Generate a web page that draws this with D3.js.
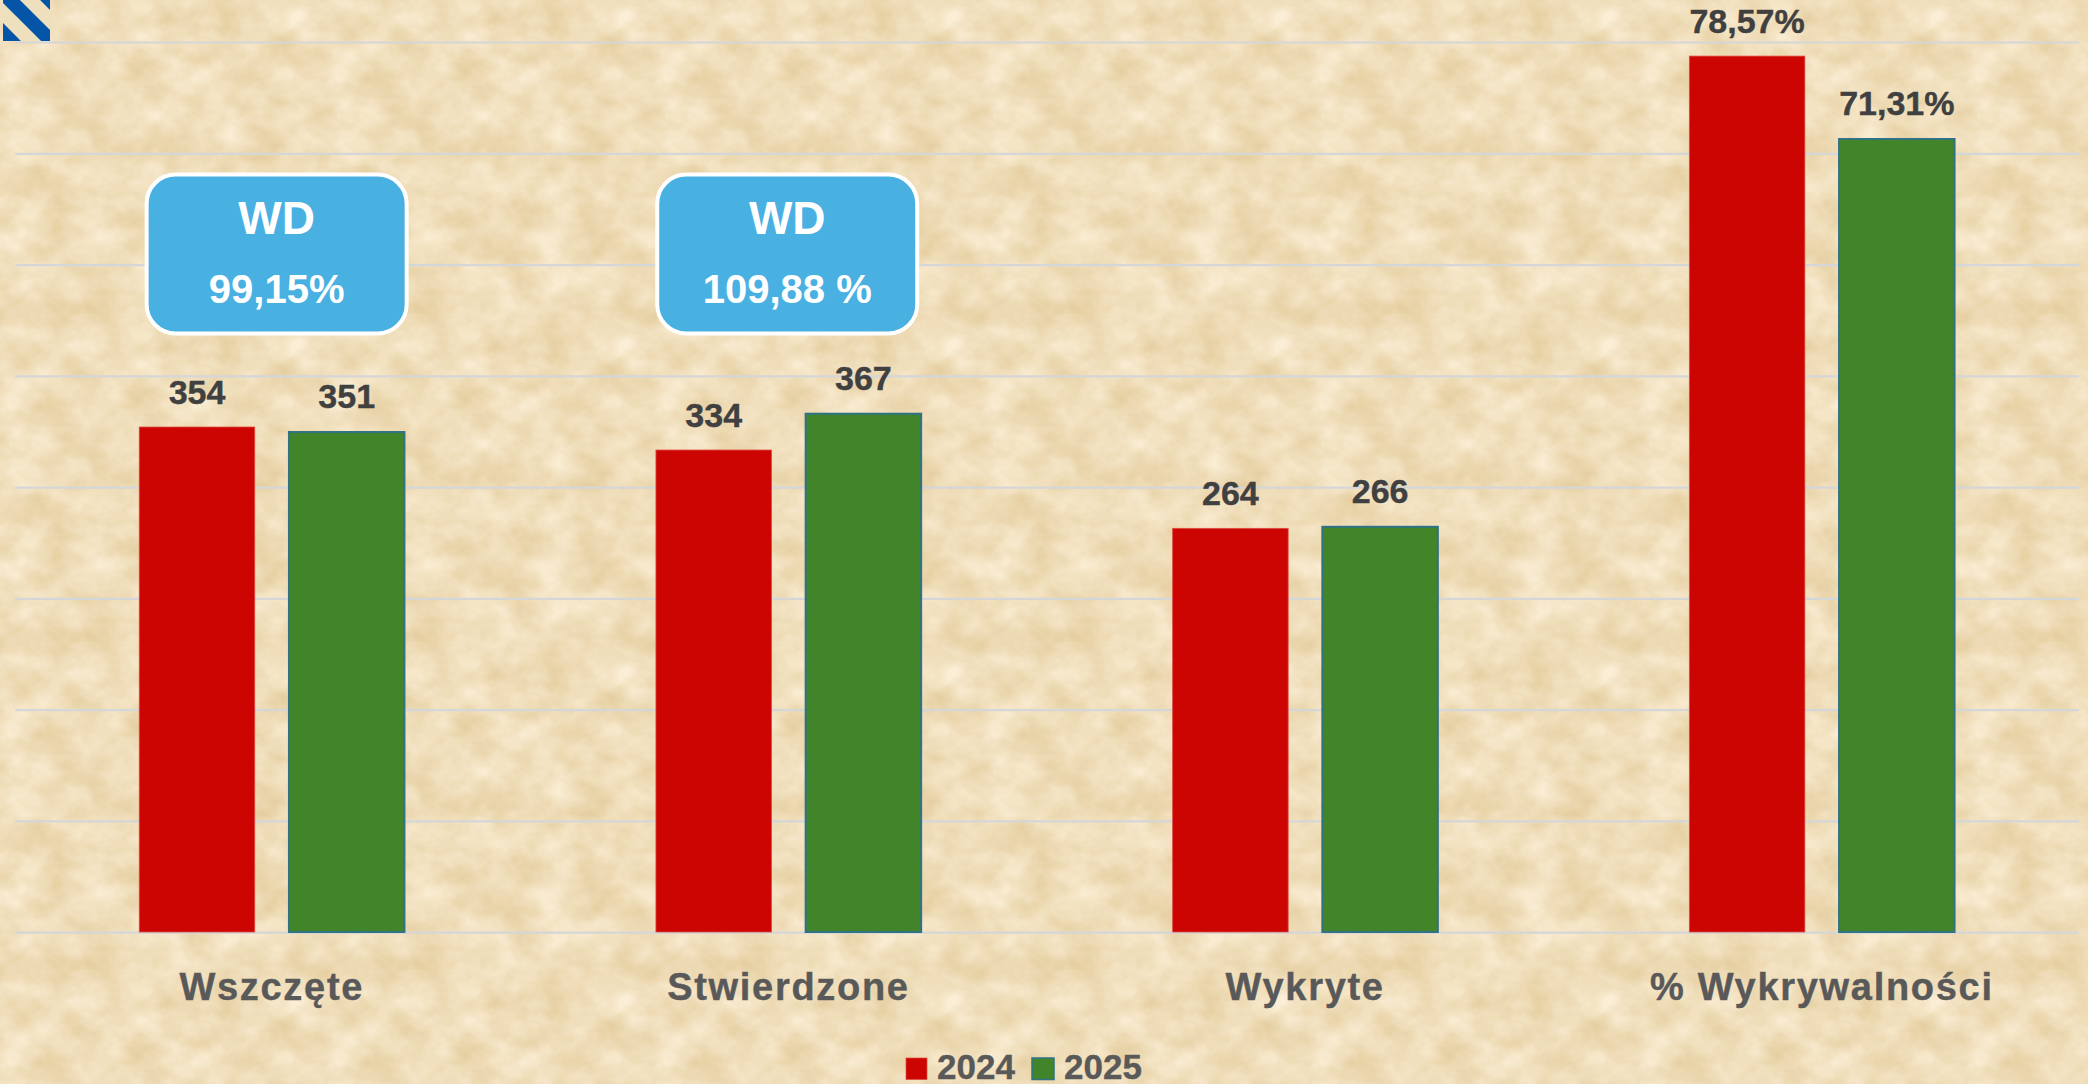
<!DOCTYPE html>
<html><head><meta charset="utf-8">
<style>html,body{margin:0;padding:0;background:#efdfba;overflow:hidden}svg{display:block}</style>
<script src="https://cdn.jsdelivr.net/npm/d3@7"></script></head><body><div id="c"></div>
<script>
const categories = ["Wszczęte","Stwierdzone","Wykryte","% Wykrywalności"];
const years = ["2024","2025"];
// Printed labels, as shown on the chart
const valueLabels2024 = ["354","334","264","78,57%"];
const valueLabels2025 = ["351","367","266","71,31%"];
// Bar heights, in the units of the first bar (354):
// the reference's bars are not proportional to the printed labels.
const barHeights2024 = [354,337.9,283.1,613.5];
const barHeights2025 = [350.5,363.3,284.2,555.5];
const gridTicks = [0,1,2,3,4,5,6,7,8];
const badgeCategories = ["Wszczęte","Stwierdzone"];
const badgeOffsets = [3.7,-2.4];
const badgeTitles = ["WD","WD"];
const badgeValues = ["99,15%","109,88 %"];
const yearColors = ["#cc0502","#41842a"];
const yearStrokes = ["#dd4a40","#2f7385"];

const W=2088,H=1084,base=933,top_=42.5,left=15.3,right=2079;
const svg=d3.select("#c").append("svg").attr("width",W).attr("height",H);
const defs=svg.append("defs");
const tile=328;
const f=defs.append("filter").attr("id","paper").attr("x",0).attr("y",0).attr("width","100%").attr("height","100%")
  .attr("color-interpolation-filters","sRGB");
f.append("feTurbulence").attr("type","fractalNoise").attr("baseFrequency","0.024 0.03").attr("numOctaves",6).attr("seed",7).attr("stitchTiles","stitch").attr("result","n");
f.append("feColorMatrix").attr("type","matrix").attr("values",
 "0.13 0 0 0 0.875  0.19 0 0 0 0.775  0.32 0 0 0 0.57  0 0 0 0 1");
const pat=defs.append("pattern").attr("id","tile").attr("patternUnits","userSpaceOnUse").attr("width",tile).attr("height",tile);
pat.append("rect").attr("width",tile).attr("height",tile).attr("filter","url(#paper)");
svg.append("rect").attr("width",W).attr("height",H).attr("fill","url(#tile)");

// corner mark
const cp=defs.append("clipPath").attr("id","mark");
cp.append("rect").attr("x",3).attr("y",0).attr("width",47).attr("height",41);
const mark=svg.append("g").attr("clip-path","url(#mark)");
mark.append("rect").attr("x",3).attr("y",0).attr("width",47).attr("height",41).attr("fill","#efe0bd");
[-30,10,50].forEach(o=>mark.append("line").attr("x1",o-10).attr("y1",-10).attr("x2",o+60).attr("y2",60).attr("stroke","#0455a8").attr("stroke-width",14));

const y=d3.scaleLinear().domain([0,622.8]).range([base,base-890.2]);
const yGrid=d3.scaleLinear().domain([0,8]).range([base-0.3,top_]);
const x0=d3.scaleBand().domain(categories).range([14.6,2081.4]);
const x1=d3.scaleBand().domain(years).range([-133.7,131.5]).paddingInner(0.2285);

svg.append("g").selectAll("line").data(gridTicks).join("line")
 .attr("x1",left).attr("x2",right).attr("y1",d=>yGrid(d)).attr("y2",d=>yGrid(d))
 .attr("stroke","#d5d6d8").attr("stroke-width",2.2);

const FONT="'Liberation Sans',Arial,sans-serif";
const series=[barHeights2024,barHeights2025], labels=[valueLabels2024,valueLabels2025];
years.forEach((yr,si)=>{
  const g=svg.append("g");
  const rows=categories.map((c,i)=>({c,i,v:series[si][i],l:labels[si][i]}));
  const bx=d=>x0(d.c)+x0.bandwidth()/2+x1(yr);
  g.selectAll("rect").data(rows).join("rect")
   .attr("x",bx).attr("y",d=>y(d.v)).attr("width",x1.bandwidth()).attr("height",d=>base-y(d.v)-1)
   .attr("fill",yearColors[si]).attr("stroke",yearStrokes[si]).attr("stroke-width",si?2:0.8);
  g.selectAll("text").data(rows).join("text")
   .attr("x",d=>bx(d)+x1.bandwidth()/2).attr("y",d=>y(d.v)-(si?24:23))
   .attr("text-anchor","middle").attr("font-family",FONT).attr("font-weight",700)
   .attr("font-size",34).attr("fill","#404040").attr("stroke","#404040").attr("stroke-width",0.4).text(d=>d.l);
});

svg.append("g").selectAll("text").data(categories).join("text")
 .attr("x",d=>x0(d)+x0.bandwidth()/2-1.2).attr("y",999.5).attr("text-anchor","middle")
 .attr("font-family",FONT).attr("font-weight",700).attr("font-size",38).attr("letter-spacing",1.7)
 .attr("fill","#595959").attr("stroke","#595959").attr("stroke-width",0.4).text(d=>d);

// badges
const bw=264,bh=163;
const b=svg.append("g").selectAll("g").data(badgeCategories).join("g")
 .attr("transform",(d,i)=>`translate(${x0(d)+x0.bandwidth()/2+badgeOffsets[i]},172.5)`);
b.append("rect").attr("x",-bw/2+2).attr("y",2).attr("width",bw-4).attr("height",bh-4).attr("rx",29)
 .attr("fill","#49b0e2").attr("stroke","#fff").attr("stroke-width",4);
b.append("text").attr("y",61).attr("text-anchor","middle").attr("font-family",FONT).attr("font-weight",700)
 .attr("font-size",46).attr("fill","#fff").text((d,i)=>badgeTitles[i]);
b.append("text").attr("y",130.5).attr("text-anchor","middle").attr("font-family",FONT).attr("font-weight",700)
 .attr("font-size",40).attr("fill","#fff").text((d,i)=>badgeValues[i]);

// legend
const legendX=d3.scaleOrdinal().domain(years).range([906,1032]);
const leg=svg.append("g").selectAll("g").data(years).join("g").attr("transform",d=>`translate(${legendX(d)},1058)`);
leg.append("rect").attr("width",(d,i)=>i?22:21).attr("height",21.5).attr("fill",(d,i)=>yearColors[i]).attr("stroke",(d,i)=>yearStrokes[i]).attr("stroke-width",(d,i)=>i?1.5:.7);
leg.append("text").attr("x",(d,i)=>i?32:31).attr("y",21).attr("font-family",FONT).attr("font-weight",700)
 .attr("font-size",35).attr("fill","#595959").attr("stroke","#595959").attr("stroke-width",0.4).text(d=>d);
</script></body></html>
